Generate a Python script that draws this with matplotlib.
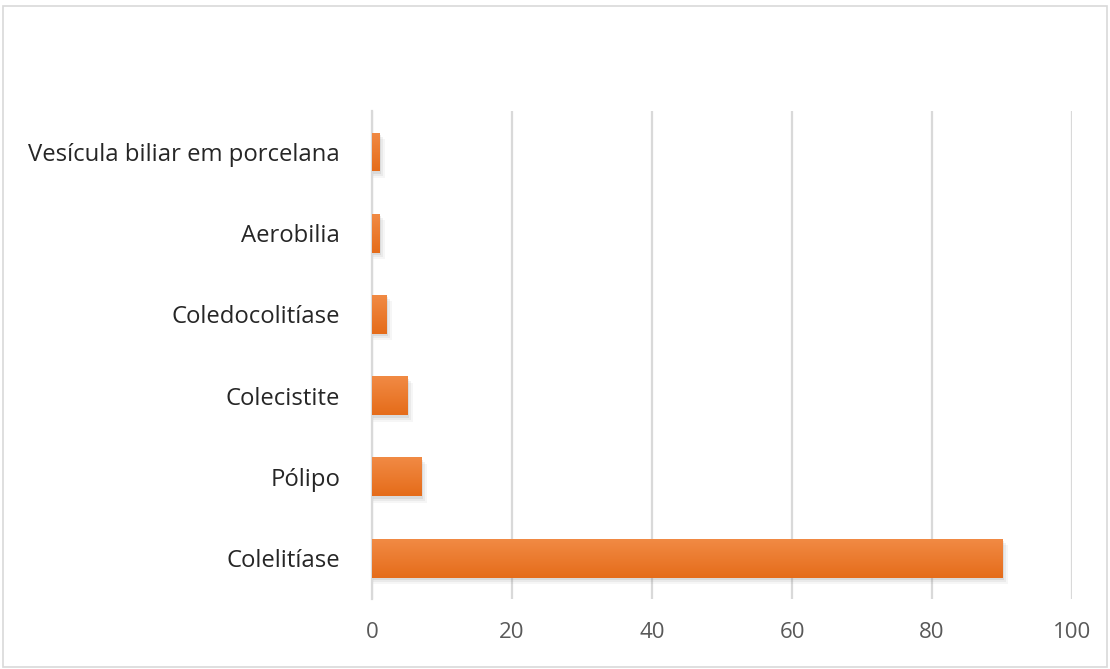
import numpy as np
import matplotlib.pyplot as plt
from matplotlib.patches import Rectangle
from matplotlib.colors import LinearSegmentedColormap

plt.rcParams["font.family"] = ["Open Sans", "DejaVu Sans"]

categories = ["Colelitíase", "Pólipo", "Colecistite", "Coledocolitíase",
              "Aerobilia", "Vesícula biliar em porcelana"]
values = [90, 7, 5, 2, 1, 1]
xticks = [0, 20, 40, 60, 80, 100]

fig = plt.figure(figsize=(11.1, 6.69), dpi=100)
ax = fig.add_axes([0.3351, 0.1052, 0.6307, 0.7283])

# light frame round the whole chart
fig.patches.append(Rectangle((0.003, 0.003), 0.994, 0.988, transform=fig.transFigure,
                             fill=False, edgecolor="#d9d9d9", linewidth=1.2))

y = np.arange(len(categories))
h = 0.48

# soft drop shadow under each bar
for k, a in enumerate([0.05, 0.08, 0.11]):
    off = 0.03 + 0.025 * (2 - k)
    ax.barh(y - off, [v + 0.3 * (3 - k) for v in values], height=h, left=0,
            color="#606060", alpha=a, zorder=2, linewidth=0)

bars = ax.barh(y, values, height=h, color="#ee7a2c", zorder=3, linewidth=0)

# vertical orange gradient inside each bar
grad = LinearSegmentedColormap.from_list("og", ["#e56c1a", "#f18a44"])
for b in bars:
    x0, y0 = b.get_x(), b.get_y()
    w, hh = b.get_width(), b.get_height()
    im = ax.imshow(np.linspace(0, 1, 64).reshape(-1, 1), cmap=grad, aspect="auto",
                   extent=[x0, x0 + w, y0, y0 + hh], origin="lower", zorder=4)
    im.set_clip_path(b)

ax.set_xlim(0, 100)
ax.set_ylim(-0.5, len(categories) - 0.5)
ax.set_xticks(xticks)
ax.set_yticks(y)
ax.set_yticklabels(categories)
ax.tick_params(axis="x", length=0, pad=17, labelsize=16, labelcolor="#595959")
ax.tick_params(axis="y", length=0, pad=23, labelsize=17.2, labelcolor="#262626")
ax.grid(axis="x", color="#d9d9d9", linewidth=1.6, zorder=0)
for s in ["top", "right", "bottom"]:
    ax.spines[s].set_visible(False)
ax.spines["left"].set_color("#d9d9d9")
ax.spines["left"].set_linewidth(1.6)

fig.savefig("out.png", dpi=100)
